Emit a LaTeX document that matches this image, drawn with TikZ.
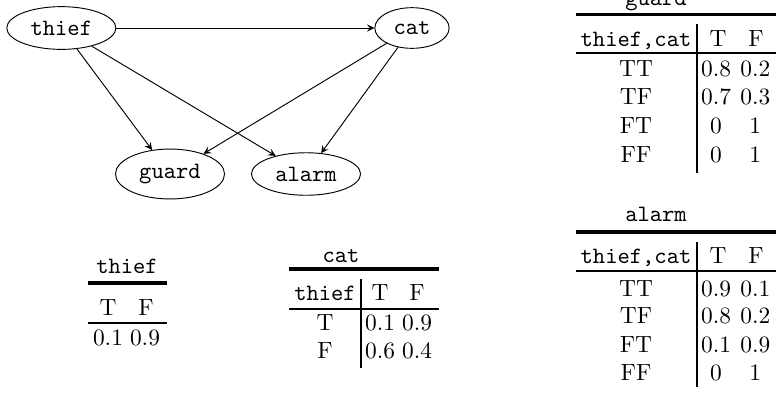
\documentclass[tikz,border=0pt]{standalone}
\usetikzlibrary{shapes.geometric}

\begin{document}
\begin{tikzpicture}[var/.style = {draw, ellipse, font = \ttfamily},
    cell/.style = {anchor = base, inner sep = 0pt},
    ttcell/.style = {cell, font = \ttfamily},
    toprule/.style = {line width = 1.4pt},
    midrule/.style = {line width = 0.8pt},
    colrule/.style = {line width = 1.2pt}]
      \useasboundingbox (0, 0) rectangle (11.64, -5.91);
      % network
      \node[var] (thief) at (0.92, -0.42) {thief};
      \node[var] (cat) at (6.18, -0.42) {cat};
      \node[var] (guard) at (2.55, -2.61) {guard};
      \node[var] (alarm) at (4.59, -2.61) {alarm};
      \draw[-stealth] (thief) -- (cat);
      \draw[-stealth] (thief) -- (guard);
      \draw[-stealth] (thief) -- (alarm);
      \draw[-stealth] (cat) -- (guard);
      \draw[-stealth] (cat) -- (alarm);
      % table for thief
      \node[ttcell] (thief title) at (1.905, -4.095) {thief};
      \draw[toprule] (1.32, -4.245) -- (2.505, -4.245);
      \node[cell] (thief T) at (1.62, -4.725) {T};
      \node[cell] (thief F) at (2.19, -4.725) {F};
      \draw[midrule] (1.32, -4.845) -- (2.505, -4.845);
      \node[cell] (thief pT) at (1.62, -5.175) {0.1};
      \node[cell] (thief pF) at (2.175, -5.175) {0.9};
      % table for cat
      \node[ttcell] (cat title) at (5.115, -3.93) {cat};
      \draw[toprule] (4.335, -4.035) -- (6.585, -4.035);
      \node[ttcell] (cat parent) at (4.875, -4.5) {thief};
      \node[cell] (cat T) at (5.70, -4.5) {T};
      \node[cell] (cat F) at (6.255, -4.5) {F};
      \draw[midrule] (4.335, -4.635) -- (6.585, -4.635);
      \draw[colrule] (5.415, -4.185) -- (5.415, -5.52);
      \node[cell] (cat row1) at (4.875, -4.95) {T};
      \node[cell] at (5.70, -4.95) {0.1};
      \node[cell] at (6.255, -4.95) {0.9};
      \node[cell] (cat row2) at (4.875, -5.37) {F};
      \node[cell] at (5.70, -5.37) {0.6};
      \node[cell] at (6.255, -5.37) {0.4};
      % table for guard
      \node[ttcell] (guard title) at (9.84, -0.075) {guard};
      \draw[toprule] (8.64, -0.22) -- (11.70, -0.22);
      \node[ttcell] (guard parents) at (9.54, -0.69) {thief,cat};
      \node[cell] (guard T) at (10.77, -0.69) {T};
      \node[cell] (guard F) at (11.34, -0.69) {F};
      \draw[midrule] (8.64, -0.795) -- (11.70, -0.795);
      \draw[colrule] (10.455, -0.36) -- (10.455, -2.595);
      \node[cell] at (9.54, -1.14) {TT};
      \node[cell] at (10.74, -1.14) {0.8};
      \node[cell] at (11.33, -1.14) {0.2};
      \node[cell] at (9.54, -1.57) {TF};
      \node[cell] at (10.74, -1.57) {0.7};
      \node[cell] at (11.33, -1.57) {0.3};
      \node[cell] at (9.54, -2.0) {FT};
      \node[cell] at (10.74, -2.0) {0};
      \node[cell] at (11.33, -2.0) {1};
      \node[cell] at (9.54, -2.43) {FF};
      \node[cell] at (10.74, -2.43) {0};
      \node[cell] at (11.33, -2.43) {1};
      % table for alarm
      \node[ttcell] (alarm title) at (9.84, -3.315) {alarm};
      \draw[toprule] (8.64, -3.48) -- (11.70, -3.48);
      \node[ttcell] (alarm parents) at (9.54, -3.945) {thief,cat};
      \node[cell] (alarm T) at (10.77, -3.945) {T};
      \node[cell] (alarm F) at (11.34, -3.945) {F};
      \draw[midrule] (8.64, -4.065) -- (11.70, -4.065);
      \draw[colrule] (10.455, -3.63) -- (10.455, -5.805);
      \node[cell] at (9.54, -4.44) {TT};
      \node[cell] at (10.74, -4.44) {0.9};
      \node[cell] at (11.33, -4.44) {0.1};
      \node[cell] at (9.54, -4.845) {TF};
      \node[cell] at (10.74, -4.845) {0.8};
      \node[cell] at (11.33, -4.845) {0.2};
      \node[cell] at (9.54, -5.28) {FT};
      \node[cell] at (10.74, -5.28) {0.1};
      \node[cell] at (11.33, -5.28) {0.9};
      \node[cell] at (9.54, -5.70) {FF};
      \node[cell] at (10.74, -5.70) {0};
      \node[cell] at (11.33, -5.70) {1};
    \end{tikzpicture}
\end{document}
